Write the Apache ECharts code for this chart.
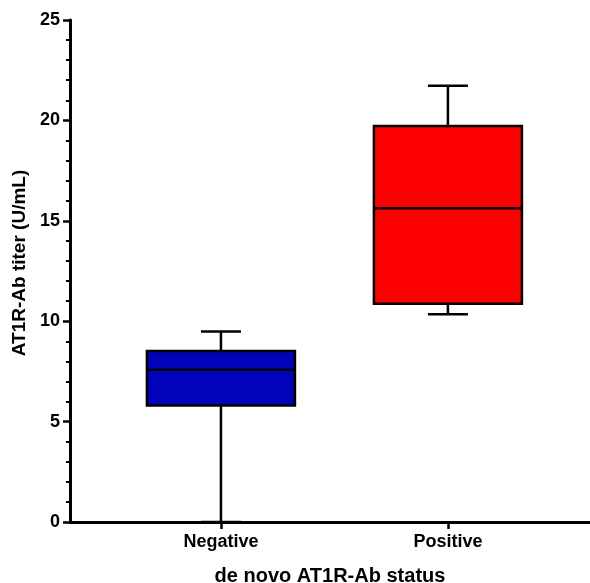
<!DOCTYPE html>
<html>
<head>
<meta charset="utf-8">
<script src="https://cdn.jsdelivr.net/npm/echarts@6/dist/echarts.min.js"></script>
<style>
  html, body { margin: 0; padding: 0; background: #fff; }
  #main { width: 590px; height: 583px; }
</style>
</head>
<body>
<div id="main"></div>
<script>
// box plot values
const categories = ['Negative', 'Positive'];
const whiskerMin = [0, 10.35];
const q1 = [5.8, 10.87];
const median = [7.58, 15.63];
const q3 = [8.51, 19.72];
const whiskerMax = [9.49, 21.73];
const yTicks = [0, 5, 10, 15, 20, 25];

const boxColors = ['#0202bb', '#ff0000'];

let chart = echarts.init(document.getElementById('main'));

let boxData = categories.map((c, i) => [i, whiskerMin[i], q1[i], median[i], q3[i], whiskerMax[i]]);

const font = 'Liberation Sans, Arial, sans-serif';

let option = {
  animation: false,
  grid: { left: 70, right: 0, top: 20, bottom: 61, outerBoundsMode: 'none', containLabel: false },
  xAxis: {
    type: 'value',
    min: -0.665,
    max: 1.626,
    name: 'de novo AT1R-Ab status',
    nameLocation: 'middle',
    nameGap: 44,
    nameTextStyle: { color: '#000', fontSize: 20, fontWeight: 'bold', fontFamily: font },
    axisLine: { show: true, onZero: false, lineStyle: { color: '#000', width: 3 } },
    axisTick: { show: true, length: 7, customValues: [0, 1], lineStyle: { color: '#000', width: 2.5 } },
    axisLabel: {
      customValues: [0, 1],
      margin: 11,
      color: '#000', fontSize: 18, fontWeight: 'bold', fontFamily: font,
      formatter: v => categories[Math.round(v)]
    },
    splitLine: { show: false }
  },
  yAxis: {
    type: 'value',
    min: yTicks[0],
    max: yTicks[yTicks.length - 1],
    interval: 5,
    name: 'AT1R-Ab titer (U/mL)',
    nameLocation: 'middle',
    nameGap: 39,
    nameTextStyle: { color: '#000', fontSize: 19, fontWeight: 'bold', fontFamily: font, padding: [0, 0, 0, 16] },
    axisLine: { show: true, onZero: false, lineStyle: { color: '#000', width: 3 } },
    axisTick: { show: true, length: 7, lineStyle: { color: '#000', width: 2.5 } },
    minorTick: { show: true, splitNumber: 5, length: 4, lineStyle: { color: '#000', width: 2 } },
    axisLabel: { margin: 10, color: '#000', fontSize: 18, fontWeight: 'bold', fontFamily: font },
    splitLine: { show: false }
  },
  series: [{
    type: 'custom',
    data: boxData,
    encode: { x: 0, y: [1, 2, 3, 4, 5] },
    renderItem(params, api) {
      let x = api.value(0);
      let pMin = api.coord([x, api.value(1)]);
      let pQ1 = api.coord([x, api.value(2)]);
      let pMed = api.coord([x, api.value(3)]);
      let pQ3 = api.coord([x, api.value(4)]);
      let pMax = api.coord([x, api.value(5)]);
      let half = 74;
      let cap = 20;
      let cx = pMin[0];
      let line = { stroke: '#000', lineWidth: 2.5 };
      return {
        type: 'group',
        children: [
          { type: 'line', shape: { x1: cx, y1: pMin[1], x2: cx, y2: pQ1[1] }, style: line },
          { type: 'line', shape: { x1: cx, y1: pQ3[1], x2: cx, y2: pMax[1] }, style: line },
          { type: 'line', shape: { x1: cx - cap, y1: pMin[1], x2: cx + cap, y2: pMin[1] }, style: line },
          { type: 'line', shape: { x1: cx - cap, y1: pMax[1], x2: cx + cap, y2: pMax[1] }, style: line },
          { type: 'rect', shape: { x: cx - half, y: pQ3[1], width: half * 2, height: pQ1[1] - pQ3[1] },
            style: { fill: boxColors[params.dataIndex], stroke: '#000', lineWidth: 2.5 } },
          { type: 'line', shape: { x1: cx - half, y1: pMed[1], x2: cx + half, y2: pMed[1] }, style: line }
        ]
      };
    }
  }]
};

chart.setOption(option);
</script>
</body>
</html>
